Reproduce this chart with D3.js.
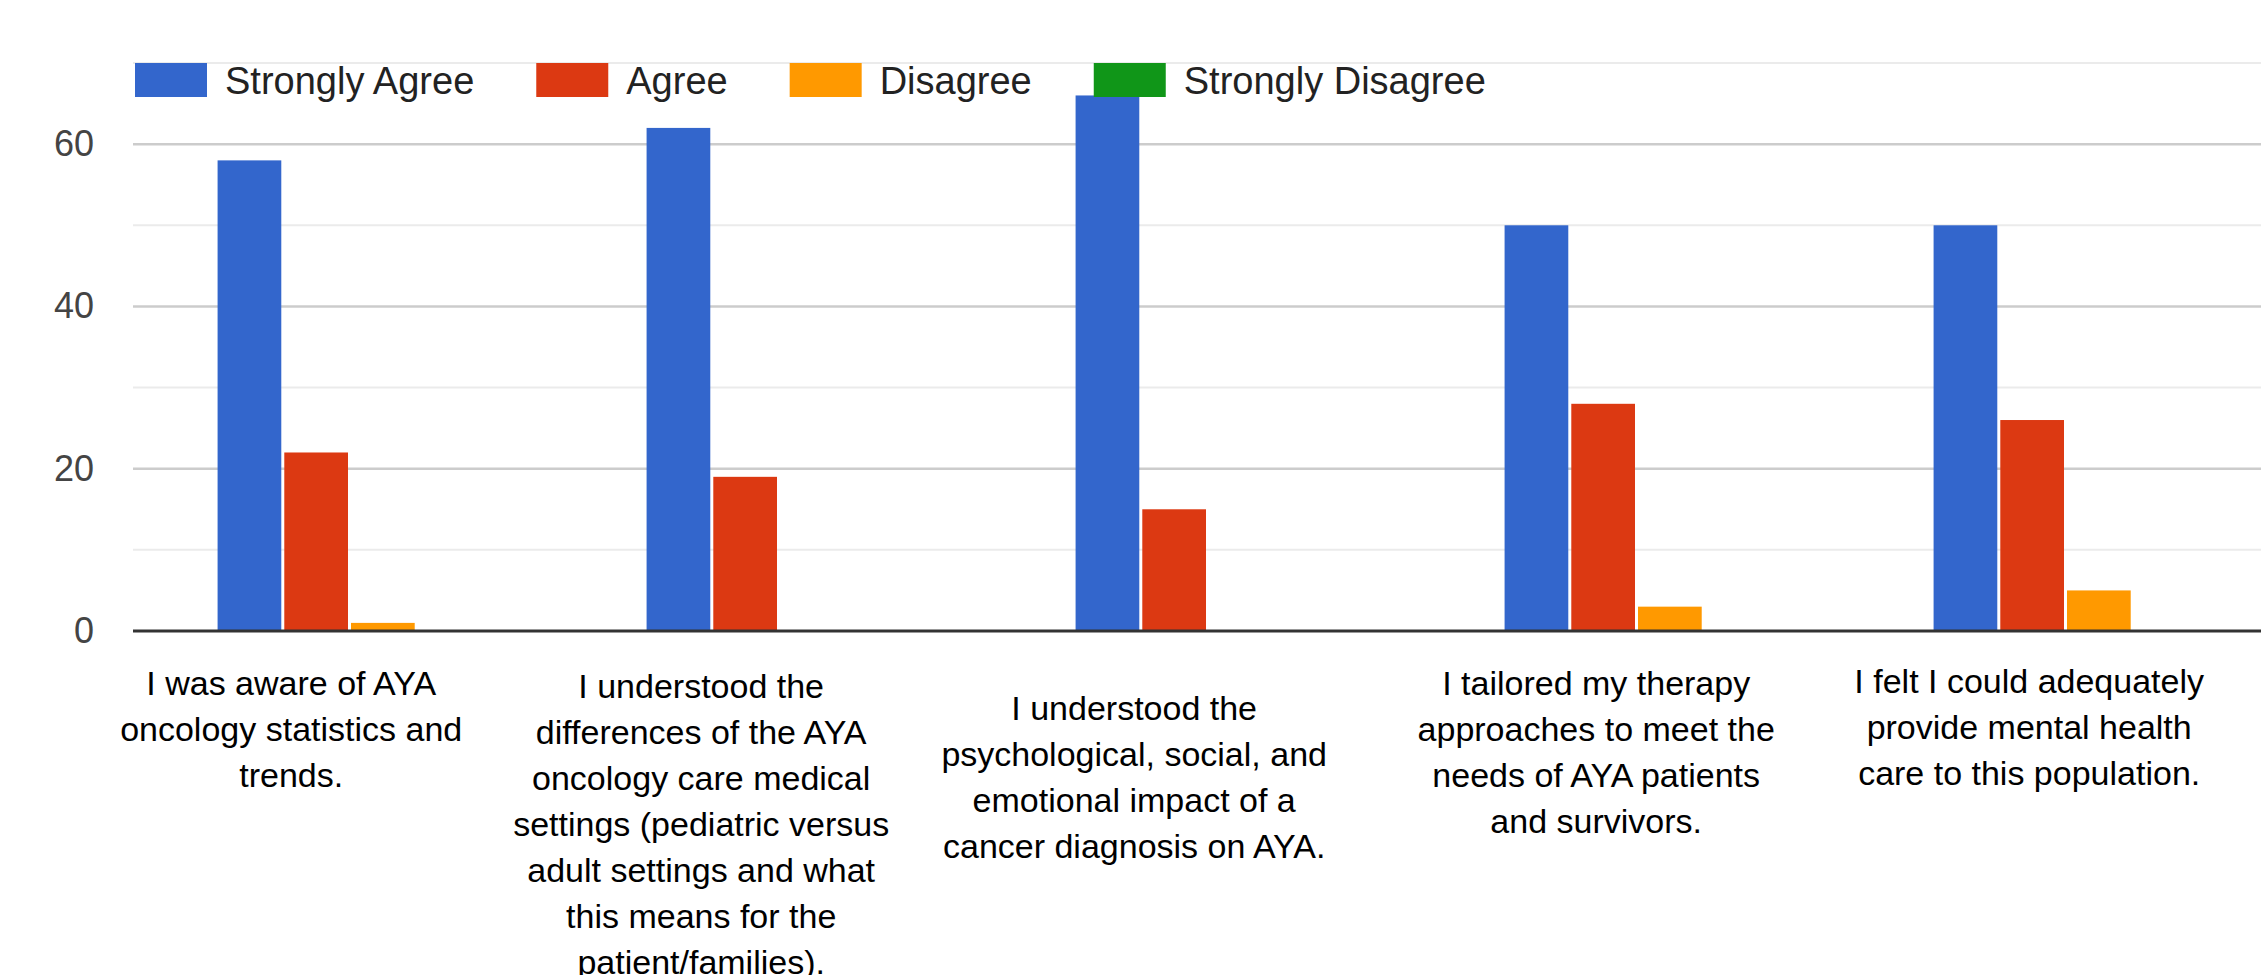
<!DOCTYPE html>
<html>
<head>
<meta charset="utf-8">
<script src="https://cdn.jsdelivr.net/npm/d3@7"></script>
<style>
  html, body { margin: 0; padding: 0; background: #fff; }
  svg { display: block; font-family: "Liberation Sans", Arial, sans-serif; }
</style>
</head>
<body>
<svg id="chart" width="2261" height="975"></svg>
<script>
// ---- data ----
const categories = [
  "I was aware of AYA\noncology statistics and\ntrends.",
  "I understood the\ndifferences of the AYA\noncology care medical\nsettings (pediatric versus\nadult settings and what\nthis means for the\npatient/families).",
  "I understood the\npsychological, social, and\nemotional impact of a\ncancer diagnosis on AYA.",
  "I tailored my therapy\napproaches to meet the\nneeds of AYA patients\nand survivors.",
  "I felt I could adequately\nprovide mental health\ncare to this population."
];
const seriesNames = ["Strongly Agree", "Agree", "Disagree", "Strongly Disagree"];
const stronglyAgree    = [58, 62, 66, 50, 50];
const agree            = [22, 19, 15, 28, 26];
const disagree         = [1, 0, 0, 3, 5];
const stronglyDisagree = [0, 0, 0, 0, 0];
const yTicks = [0, 20, 40, 60];
const yMinorTicks = [10, 30, 50, 70];

// ---- layout ----
const colors = ["#3366cc", "#dc3912", "#ff9900", "#109618"];
const seriesValues = [stronglyAgree, agree, disagree, stronglyDisagree];
const W = 2261, H = 975;
const plotLeft = 133, plotRight = 2280, plotTop = 63, plotBottom = 631;
// small per-label nudges to follow the reference's wrapped label placement
const labelNudge = [[-1, 0], [-20, 3], [-16, 25], [17, 0], [21, -2]];

const svg = d3.select("#chart");

const y = d3.scaleLinear().domain([0, 70]).range([plotBottom, plotTop]);
const x0 = d3.scaleBand().domain(d3.range(categories.length))
  .range([plotLeft + 2, plotRight]).paddingInner(0.385).paddingOuter(0.1925);
const x1 = d3.scaleBand().domain(d3.range(seriesNames.length))
  .range([0, x0.bandwidth()]).paddingInner(0.045);

// gridlines
svg.append("g").selectAll("line").data(yMinorTicks).join("line")
  .attr("x1", plotLeft).attr("x2", W)
  .attr("y1", d => y(d)).attr("y2", d => y(d))
  .attr("stroke", "#ebebeb").attr("stroke-width", 2);
svg.append("g").selectAll("line").data(yTicks.filter(d => d !== 0)).join("line")
  .attr("x1", plotLeft).attr("x2", W)
  .attr("y1", d => y(d)).attr("y2", d => y(d))
  .attr("stroke", "#cccccc").attr("stroke-width", 2.5);

// y axis labels via d3.axisLeft
const yAxis = svg.append("g")
  .attr("transform", `translate(${plotLeft - 39},0)`)
  .call(d3.axisLeft(y).tickValues(yTicks).tickSize(0).tickPadding(0));
yAxis.select(".domain").remove();
yAxis.selectAll("text")
  .attr("fill", "#444").attr("font-size", 36)
  .attr("font-family", "'Liberation Sans', Arial, sans-serif");

// bars
const groups = svg.append("g").selectAll("g").data(categories.map((c, i) => i)).join("g")
  .attr("transform", i => `translate(${x0(i)},0)`);
groups.selectAll("rect")
  .data(i => seriesValues.map((vals, s) => ({ s, v: vals[i] })))
  .join("rect")
  .attr("x", d => x1(d.s))
  .attr("width", x1.bandwidth())
  .attr("y", d => y(d.v))
  .attr("height", d => plotBottom - y(d.v))
  .attr("fill", d => colors[d.s]);

// baseline
svg.append("line")
  .attr("x1", plotLeft).attr("x2", W)
  .attr("y1", y(0)).attr("y2", y(0))
  .attr("stroke", "#333").attr("stroke-width", 3);

// category labels
const labelBaseY = 695, lineH = 46;
categories.forEach((c, i) => {
  const cx = x0(i) + 74.6 + labelNudge[i][0];
  const t = svg.append("text")
    .attr("text-anchor", "middle")
    .attr("font-size", 34)
    .attr("fill", "#000");
  c.split("\n").forEach((line, k) => {
    t.append("tspan").attr("x", cx)
      .attr("y", labelBaseY + labelNudge[i][1] + k * lineH)
      .text(line);
  });
});

// legend
const legend = svg.append("g");
let lx = 135;
seriesNames.forEach((name, s) => {
  legend.append("rect")
    .attr("x", lx).attr("y", 63).attr("width", 72).attr("height", 34)
    .attr("fill", colors[s]);
  const txt = legend.append("text")
    .attr("x", lx + 90).attr("y", 94)
    .attr("font-size", 38).attr("fill", "#222")
    .text(name);
  const w = txt.node().getComputedTextLength();
  lx = lx + 90 + w + 62;
});
</script>
</body>
</html>
